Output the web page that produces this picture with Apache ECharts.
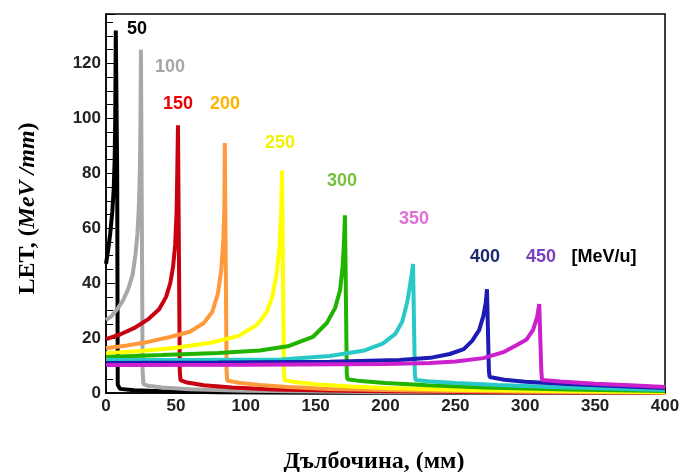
<!DOCTYPE html>
<html>
<head>
<meta charset="utf-8">
<script src="https://cdn.jsdelivr.net/npm/echarts@6/dist/echarts.min.js"></script>
<style>html,body{margin:0;padding:0;background:#fff}#c{width:680px;height:472px}</style>
</head>
<body>
<div id="c"></div>
<script>
// Energies (MeV/u) and their depth-LET curves [depth mm, LET MeV/mm]
const energies = ['50','100','150','200','250','300','350','400','450'];
const xTicks = [0,50,100,150,200,250,300,350,400];
const yTicks = [0,20,40,60,80,100,120];

const e50 = [[0,47],[1.5,52],[3,58],[4.5,66],[5.5,74],[6.2,85],[6.6,100],[7,132],[7.8,132],[8,80],[8.4,3],[10,1.5],[20,1],[40,0.6],[80,0.3],[150,0.1],[400,0]];
const e100 = [[0,26.5],[4,28],[8,30.5],[12,33.5],[16,38],[19,43],[21,50],[22.5,58],[23.5,68],[24.3,82],[24.7,100],[25,125],[25.8,125],[26.2,8],[26.8,3.2],[30,2.6],[40,2],[60,1.4],[100,0.8],[200,0.3],[400,0]];
const e150 = [[0,19.6],[10,21.3],[20,23.6],[30,26.8],[38,30.5],[43,35],[46,40],[48,46],[49.5,54],[50.5,66],[51,80],[51.5,97.5],[52.5,97.5],[52.8,8],[53.3,4.7],[58,3.8],[70,2.8],[90,2],[120,1.3],[180,0.7],[280,0.3],[400,0.1]];
const e200 = [[0,16.3],[15,17.3],[30,18.6],[45,20.3],[60,22.3],[70,25.5],[76,29.5],[80,36],[82.5,45],[84,56],[84.7,68],[85,91],[86,91],[86.3,8],[86.8,4.5],[95,3.7],[110,2.9],[130,2.2],[160,1.5],[220,0.9],[300,0.5],[400,0.2]];
const e250 = [[0,14.5],[25,15.3],[50,16.5],[75,18.3],[95,20.8],[108,24.8],[115,29.5],[119,35],[122,43],[124,52],[125.3,65],[126,81],[127,81],[127.3,8],[127.8,4.7],[135,4],[150,3.2],[175,2.4],[200,1.8],[250,1.2],[320,0.7],[400,0.3]];
const e300 = [[0,13.1],[40,13.8],[80,14.6],[110,15.5],[130,17],[148,20.4],[158,25.5],[164,31],[167.5,37.5],[169.3,46],[170.3,55],[171,64.7],[172,64.7],[172.3,7],[172.8,5],[180,4.5],[200,3.6],[230,2.8],[270,2],[330,1.3],[400,0.7]];
const e350 = [[0,12],[60,12],[125,12.2],[160,13.5],[185,15.5],[198,18],[207,21.5],[212,26],[215.5,33],[217.5,39],[219,44],[219.7,47],[220.7,47],[221,7],[221.5,4.7],[230,4.3],[250,3.6],[280,2.9],[320,2.2],[360,1.6],[400,1.1]];
const e400 = [[0,10.9],[80,11.1],[160,11.4],[210,12],[232,12.8],[246,14.2],[256,16],[262,19],[267,22.9],[270,28],[271.8,33],[272.6,37.8],[273.6,37.8],[274,8],[274.5,5.8],[285,4.8],[300,4.1],[330,3.3],[360,2.6],[400,1.8]];
const e450 = [[0,10.2],[100,10.3],[200,10.6],[232,10.9],[250,11.5],[270,12.7],[285,15],[294,17.5],[301,19.5],[305.6,23],[308.6,27.8],[310,32.4],[311,32.4],[311.5,8],[312,4.7],[325,4.2],[350,3.4],[375,2.8],[400,2.2]];
const curves = [e50,e100,e150,e200,e250,e300,e350,e400,e450];

const lineColors = ['#000000','#a8a8a8','#c80010','#ff9a3c','#ffff00','#20b400','#28c8c8','#1c1cb4','#cc20cc'];
const labelColors = ['#000000','#a6a6a6','#ee0000','#ffb400','#f2f200','#78c040','#e070d8','#1a2a6c','#7b3fbf'];

const chart = echarts.init(document.getElementById('c'));
const series = curves.map((d,i)=>({
  name: energies[i], type:'line', data:d, showSymbol:false, smooth:false,
  lineStyle:{color:lineColors[i], width:4}, z: 2+i, animation:false
}));

const labelPos = [[137,29],[170,67],[178,104],[225,104],[280,143],[342,181],[414,219],[485,257],[541,257]];
const graphics = energies.map((e,i)=>({
  type:'text', x:labelPos[i][0], y:labelPos[i][1], z:100,
  style:{text:e, fill:labelColors[i], font:'bold 18px "Liberation Sans", Arial, sans-serif', textAlign:'center', textVerticalAlign:'middle'}
}));
graphics.push({type:'text', x:604, y:257, z:100,
  style:{text:'[MeV/u]', fill:'#000', font:'bold 18px "Liberation Sans", Arial, sans-serif', textAlign:'center', textVerticalAlign:'middle'}});

chart.setOption({
  animation:false,
  grid:{left:106, right:15, top:14, bottom:79, outerBoundsMode:'none', containLabel:false,
    show:true, borderColor:'#000', borderWidth:1.5, backgroundColor:'transparent'},
  xAxis:{type:'value', min:0, max:400, interval:50,
    name:'Дълбочина, (мм)', nameLocation:'middle', nameGap:57,
    nameTextStyle:{fontFamily:'"Liberation Serif", serif', fontWeight:'bold', fontSize:24, color:'#000', padding:[0,23,0,0]},
    axisLine:{lineStyle:{color:'#000', width:1.5}},
    axisTick:{inside:true, length:5, lineStyle:{color:'#000'}},
    splitLine:{show:false},
    axisLabel:{margin:5, fontFamily:'"Liberation Sans", Arial, sans-serif', fontWeight:'bold', fontSize:17, color:'#222',
      formatter:v=> xTicks.includes(v) ? String(v) : ''}
  },
  yAxis:{type:'value', min:0, max:138, interval:20,
    name:'{a|LET, (}{b|MeV /mm}{a|)}', nameLocation:'middle', nameGap:66, nameRotate:90,
    nameTextStyle:{padding:[0,10,0,0], rich:{
      a:{fontFamily:'"Liberation Serif", serif', fontWeight:'bold', fontSize:24, color:'#000'},
      b:{fontFamily:'"Liberation Serif", serif', fontWeight:'bold', fontStyle:'italic', fontSize:24, color:'#000'}}},
    axisLine:{show:true, lineStyle:{color:'#000', width:1.5}},
    axisTick:{inside:true, length:9, lineStyle:{color:'#000'}},
    minorTick:{show:true, splitNumber:4, length:7, lineStyle:{color:'#000'}},
    splitLine:{show:false},
    axisLabel:{margin:5, showMaxLabel:false, fontFamily:'"Liberation Sans", Arial, sans-serif', fontWeight:'bold', fontSize:17, color:'#222',
      formatter:v=> yTicks.includes(v) ? String(v) : ''}
  },
  series: series,
  graphic: graphics
});
</script>
</body>
</html>
